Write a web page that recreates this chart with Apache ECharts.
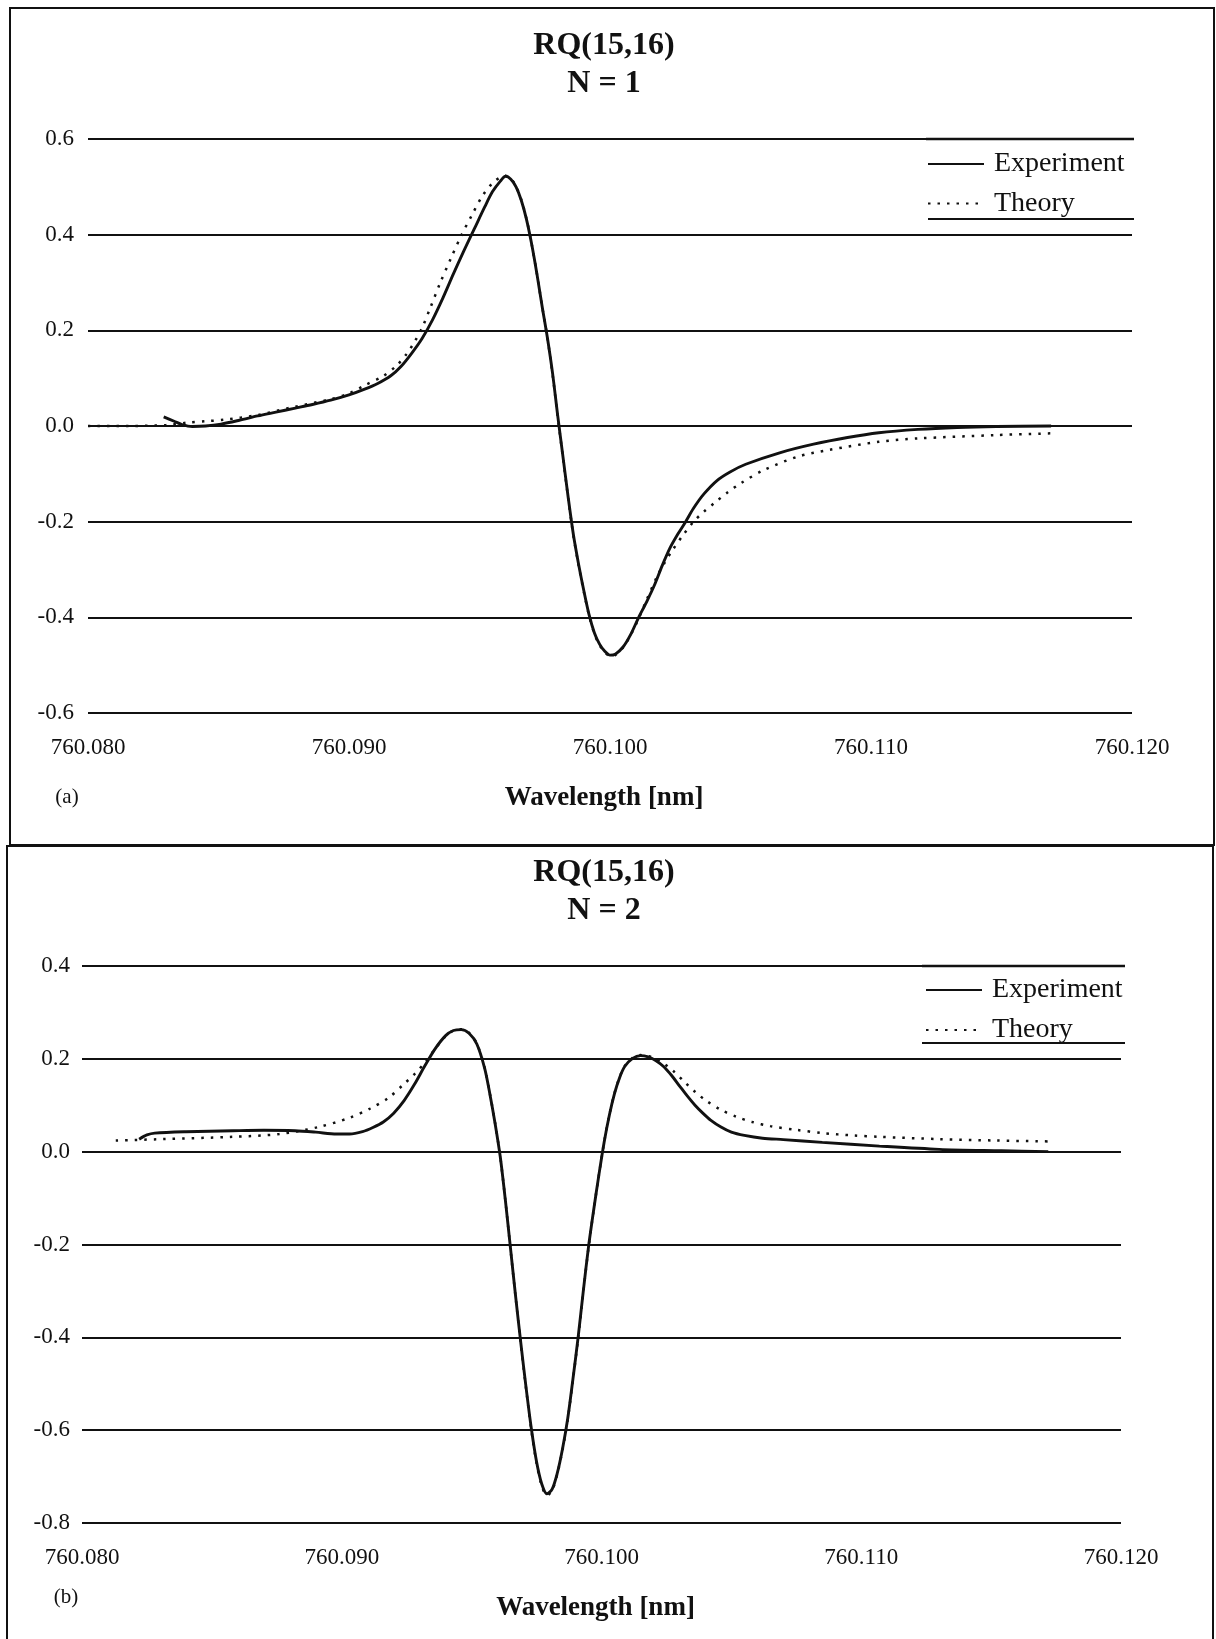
<!DOCTYPE html>
<html>
<head>
<meta charset="utf-8">
<script src="https://cdn.jsdelivr.net/npm/echarts@6/dist/echarts.min.js"></script>
<style>
  html, body { margin: 0; padding: 0; background: #ffffff; }
  #chart { width: 1216px; height: 1639px; }
</style>
</head>
<body>
<div id="chart"></div>
<script>
// ---- Panel (a): RQ(15,16), N = 1 ----
const waveExpA = [760.0829, 760.0833, 760.0836, 760.0840, 760.0845, 760.0851, 760.0858, 760.0865,
  760.0872, 760.0879, 760.0886, 760.0893, 760.0900, 760.0906, 760.0911, 760.0916, 760.0920, 760.0924,
  760.0928, 760.0932, 760.0936, 760.0940, 760.0944, 760.0948, 760.0952, 760.0955, 760.0958, 760.0960,
  760.0962, 760.0964, 760.0966, 760.0968, 760.0970, 760.0972, 760.0974, 760.0976, 760.0978, 760.0980,
  760.0982, 760.0984, 760.0986, 760.0988, 760.0990, 760.0992, 760.0994, 760.0996, 760.0998, 760.1000,
  760.1002, 760.1005, 760.1008, 760.1011, 760.1014, 760.1017, 760.1020, 760.1023, 760.1026, 760.1029,
  760.1032, 760.1036, 760.1041, 760.1046, 760.1052, 760.1065, 760.1078, 760.1091, 760.1103, 760.1118,
  760.1133, 760.1148, 760.1169];
const sigExpA = [0.019, 0.010, 0.003, -0.001, 0.000, 0.004, 0.012, 0.021,
  0.029, 0.037, 0.045, 0.054, 0.065, 0.077, 0.089, 0.105, 0.125, 0.152,
  0.183, 0.222, 0.268, 0.318, 0.366, 0.412, 0.458, 0.490, 0.512, 0.522,
  0.516, 0.500, 0.472, 0.432, 0.380, 0.318, 0.250, 0.185, 0.110, 0.020,
  -0.065, -0.150, -0.228, -0.290, -0.345, -0.395, -0.432, -0.456, -0.471, -0.479,
  -0.477, -0.462, -0.435, -0.400, -0.368, -0.333, -0.292, -0.255, -0.226, -0.200,
  -0.172, -0.142, -0.114, -0.096, -0.080, -0.056, -0.038, -0.024, -0.014, -0.007,
  -0.003, -0.001, 0.000];

const waveThA = [760.0800, 760.0815, 760.0830, 760.0838, 760.0845, 760.0852, 760.0865, 760.0879,
  760.0893, 760.0900, 760.0906, 760.0913, 760.0918, 760.0922, 760.0925, 760.0928, 760.0931, 760.0935,
  760.0939, 760.0943, 760.0947, 760.0951, 760.0955, 760.0958, 760.0960, 760.0962, 760.0964, 760.0966,
  760.0968, 760.0970, 760.0972, 760.0974, 760.0976, 760.0978, 760.0980, 760.0982, 760.0984, 760.0986,
  760.0988, 760.0990, 760.0992, 760.0994, 760.0996, 760.0998, 760.1000, 760.1002, 760.1005, 760.1008,
  760.1011, 760.1014, 760.1018, 760.1021, 760.1024, 760.1028, 760.1032, 760.1036, 760.1040, 760.1045,
  760.1050, 760.1059, 760.1072, 760.1084, 760.1103, 760.1118, 760.1148, 760.1171];
const sigThA = [0.000, 0.000, 0.002, 0.007, 0.010, 0.013, 0.023, 0.040,
  0.056, 0.068, 0.085, 0.104, 0.125, 0.150, 0.175, 0.205, 0.245, 0.300,
  0.350, 0.398, 0.440, 0.480, 0.508, 0.520, 0.523, 0.517, 0.501, 0.473,
  0.433, 0.380, 0.318, 0.250, 0.185, 0.108, 0.018, -0.067, -0.152, -0.230,
  -0.292, -0.347, -0.397, -0.434, -0.458, -0.473, -0.481, -0.479, -0.463, -0.436,
  -0.402, -0.364, -0.315, -0.285, -0.259, -0.228, -0.200, -0.179, -0.161, -0.139,
  -0.120, -0.092, -0.064, -0.050, -0.033, -0.026, -0.019, -0.015];

// ---- Panel (b): RQ(15,16), N = 2 ----
const waveExpB = [760.0822, 760.0825, 760.0828, 760.0840, 760.0858, 760.0870, 760.0882, 760.0890,
  760.0898, 760.0903, 760.0908, 760.0912, 760.0916, 760.0920, 760.0924, 760.0928, 760.0932, 760.0936,
  760.0940, 760.0943, 760.0946, 760.0949, 760.0952, 760.0955, 760.0957, 760.0959, 760.0961, 760.0963,
  760.0965, 760.0967, 760.0969, 760.0971, 760.0973, 760.0975, 760.0977, 760.0979, 760.0981, 760.0983,
  760.0985, 760.0987, 760.0989, 760.0991, 760.0993, 760.0995, 760.0997, 760.0999, 760.1001, 760.1003,
  760.1005, 760.1007, 760.1009, 760.1012, 760.1015, 760.1018, 760.1021, 760.1024, 760.1027, 760.1030,
  760.1033, 760.1036, 760.1039, 760.1042, 760.1046, 760.1050, 760.1055, 760.1062, 760.1070, 760.1085,
  760.1107, 760.1130, 760.1154, 760.1172];
const sigExpB = [0.027, 0.036, 0.040, 0.043, 0.045, 0.046, 0.045, 0.042,
  0.038, 0.038, 0.043, 0.052, 0.064, 0.083, 0.110, 0.145, 0.185, 0.222,
  0.250, 0.261, 0.263, 0.255, 0.232, 0.180, 0.125, 0.062, -0.010, -0.105,
  -0.210, -0.315, -0.415, -0.510, -0.597, -0.668, -0.716, -0.737, -0.727, -0.692,
  -0.640, -0.575, -0.490, -0.400, -0.300, -0.205, -0.125, -0.050, 0.020, 0.078,
  0.125, 0.160, 0.184, 0.201, 0.207, 0.204, 0.196, 0.183, 0.164, 0.142,
  0.120, 0.100, 0.083, 0.068, 0.053, 0.042, 0.035, 0.029, 0.026, 0.020,
  0.012, 0.005, 0.002, 0.000];

const waveThB = [760.0813, 760.0831, 760.0858, 760.0876, 760.0891, 760.0903, 760.0911, 760.0918,
  760.0924, 760.0928, 760.0932, 760.0936, 760.0940, 760.0943, 760.0946, 760.0949, 760.0952, 760.0955,
  760.0957, 760.0959, 760.0961, 760.0963, 760.0965, 760.0967, 760.0969, 760.0971, 760.0973, 760.0975,
  760.0977, 760.0979, 760.0981, 760.0983, 760.0985, 760.0987, 760.0989, 760.0991, 760.0993, 760.0995,
  760.0997, 760.0999, 760.1001, 760.1003, 760.1005, 760.1007, 760.1009, 760.1012, 760.1015, 760.1018,
  760.1021, 760.1024, 760.1028, 760.1032, 760.1036, 760.1040, 760.1046, 760.1052, 760.1058, 760.1065,
  760.1075, 760.1085, 760.1097, 760.1107, 760.1130, 760.1152, 760.1173];
const sigThB = [0.024, 0.027, 0.032, 0.038, 0.053, 0.073, 0.093, 0.116,
  0.146, 0.167, 0.192, 0.222, 0.249, 0.261, 0.264, 0.256, 0.233, 0.181,
  0.126, 0.063, -0.010, -0.106, -0.212, -0.317, -0.417, -0.512, -0.600, -0.671,
  -0.720, -0.741, -0.730, -0.694, -0.642, -0.577, -0.492, -0.402, -0.302, -0.207,
  -0.126, -0.050, 0.020, 0.079, 0.126, 0.161, 0.185, 0.202, 0.208, 0.206,
  0.200, 0.190, 0.172, 0.150, 0.129, 0.111, 0.090, 0.075, 0.064, 0.055,
  0.047, 0.040, 0.035, 0.032, 0.027, 0.024, 0.022];

// ---- Axis settings ----
const xMin = 760.080, xMax = 760.120, xStep = 0.010;
const yRangeA = [-0.6, 0.6];
const yRangeB = [-0.8, 0.4];
const yStep = 0.2;
const seriesNames = ['Experiment', 'Theory'];
const panelTitles = ['RQ(15,16)\nN = 1', 'RQ(15,16)\nN = 2'];
const panelTags = ['(a)', '(b)'];
const xTitle = 'Wavelength [nm]';

const zip = (xs, ys) => xs.map((x, i) => [x, ys[i]]);

const FONT = '"Liberation Serif", "Times New Roman", serif';
const INK = '#111111';

const solidStyle = { color: INK, width: 2.9 };
const dotStyle = { color: INK, width: 2.5, type: [2.5, 7], cap: 'butt' };

function xAxisFor(gridIndex) {
  return {
    type: 'value', gridIndex: gridIndex,
    min: xMin, max: xMax, interval: xStep,
    axisLine: { show: false }, axisTick: { show: false }, splitLine: { show: false },
    axisLabel: {
      color: INK, fontFamily: FONT, fontSize: 23, margin: 23,
      formatter: v => v.toFixed(3)
    },
    name: xTitle, nameLocation: 'middle', nameGap: 72,
    nameTextStyle: {
      color: INK, fontFamily: FONT, fontSize: 27, fontWeight: 'bold',
      padding: [0, 12, 0, 0]
    }
  };
}

function yAxisFor(gridIndex, range, margin) {
  return {
    type: 'value', gridIndex: gridIndex,
    min: range[0], max: range[1], interval: yStep,
    axisLine: { show: false }, axisTick: { show: false },
    splitLine: { show: true, lineStyle: { color: INK, width: 1.8 } },
    axisLabel: {
      color: INK, fontFamily: FONT, fontSize: 23, margin: margin,
      formatter: v => v.toFixed(1)
    }
  };
}

function legendFor(left, top, gap) {
  return {
    orient: 'vertical', left: left, top: top, padding: 0,
    itemWidth: 56, itemHeight: 14, itemGap: gap,
    data: seriesNames,
    selectedMode: false,
    itemStyle: { opacity: 0 },
    textStyle: { color: INK, fontFamily: FONT, fontSize: 28, lineHeight: 30, padding: [0, 0, 0, 5] }
  };
}

function titleFor(text, top) {
  return {
    text: text, left: 604, top: top, textAlign: 'center', padding: 0,
    textStyle: { color: INK, fontFamily: FONT, fontSize: 32, fontWeight: 'bold', lineHeight: 38 }
  };
}

const hline = (x1, x2, y, w) => ({
  type: 'line', silent: true,
  shape: { x1: x1, y1: y, x2: x2, y2: y },
  style: { stroke: INK, lineWidth: w }
});

const tag = (text, x, y) => ({
  type: 'text', silent: true, x: x, y: y,
  style: { text: text, fill: INK, font: '21px ' + FONT, align: 'center', verticalAlign: 'middle' }
});

function lineSeries(name, gridIndex, xs, ys, style, z) {
  return {
    name: name, type: 'line', xAxisIndex: gridIndex, yAxisIndex: gridIndex,
    data: zip(xs, ys), symbol: 'none', showSymbol: false, smooth: 0.3,
    itemStyle: { color: INK }, lineStyle: style, z: z
  };
}

const option = {
  animation: false,
  backgroundColor: '#ffffff',
  title: [titleFor(panelTitles[0], 27), titleFor(panelTitles[1], 854)],
  legend: [legendFor(927, 149, 9.4), legendFor(925, 975, 10)],
  grid: [
    { left: 88, top: 139, width: 1044, height: 574, outerBoundsMode: 'none' },
    { left: 82, top: 966, width: 1039, height: 557, outerBoundsMode: 'none' }
  ],
  xAxis: [xAxisFor(0), xAxisFor(1)],
  yAxis: [yAxisFor(0, yRangeA, 14), yAxisFor(1, yRangeB, 12)],
  series: [
    lineSeries(seriesNames[0], 0, waveExpA, sigExpA, solidStyle, 4),
    lineSeries(seriesNames[1], 0, waveThA, sigThA, dotStyle, 3),
    lineSeries(seriesNames[0], 1, waveExpB, sigExpB, solidStyle, 4),
    lineSeries(seriesNames[1], 1, waveThB, sigThB, dotStyle, 3)
  ],
  graphic: [
    // panel frames (the lower frame runs off the bottom edge)
    { type: 'rect', silent: true, shape: { x: 10, y: 8, width: 1204, height: 837 },
      style: { fill: 'none', stroke: INK, lineWidth: 2 } },
    { type: 'rect', silent: true, shape: { x: 7, y: 846, width: 1206, height: 810 },
      style: { fill: 'none', stroke: INK, lineWidth: 2 } },
    // legend box edges
    hline(926, 1134, 139, 2.4),
    hline(928, 1134, 219, 1.8),
    hline(922, 1125, 966, 2.4),
    hline(922, 1125, 1043, 1.8),
    // panel tags
    tag(panelTags[0], 67, 797),
    tag(panelTags[1], 66, 1597)
  ]
};

const chart = echarts.init(document.getElementById('chart'), null, { renderer: 'canvas' });
chart.setOption(option);
</script>
</body>
</html>
